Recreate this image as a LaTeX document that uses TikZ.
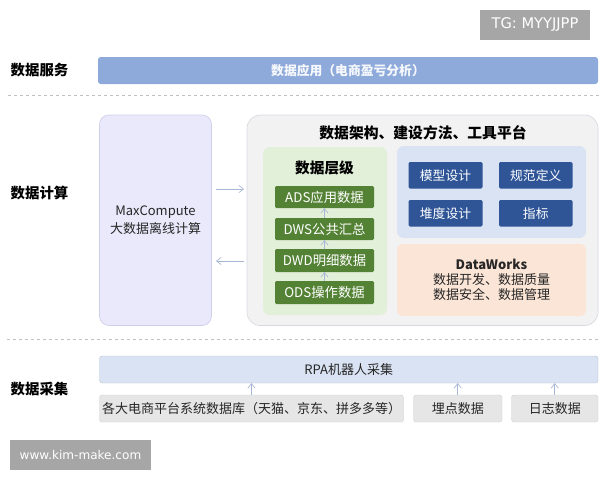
\documentclass[tikz,border=0pt]{standalone}
\usepackage{fontspec}
\setmainfont{Noto Sans CJK SC}
\newfontfamily\wmfont{DejaVu Sans}
\usetikzlibrary{arrows.meta}
\definecolor{arrowc}{HTML}{A9B7D6}
\definecolor{svc}{HTML}{8EAADB}
\definecolor{mcfill}{HTML}{E9E9FB}
\definecolor{mcline}{HTML}{CDD1E8}
\definecolor{bigfill}{HTML}{F2F2F2}
\definecolor{bigline}{HTML}{D6D9E2}
\definecolor{greenp}{HTML}{E2F0D9}
\definecolor{bluep}{HTML}{DAE3F3}
\definecolor{btn}{HTML}{2F5597}
\definecolor{orangep}{HTML}{FBE5D6}
\definecolor{greenb}{HTML}{548235}
\definecolor{grayb}{HTML}{E7E6E6}
\definecolor{wm}{HTML}{A6A6A6}
\definecolor{dashc}{HTML}{BFBFBF}
\newcommand{\fs}[1]{\fontsize{#1}{#1}\selectfont}
\newcommand{\bx}[7]{\node[basebox,#2,minimum width={(#5-#3)*0.75pt},minimum height={(#6-#4)*0.75pt}] (#1) at ({(#3+#5)/2},{(#4+#6)/2}) {#7};}
\tikzset{
  x=0.75pt,y=-0.75pt,
  basebox/.style={inner sep=0pt,outer sep=0pt,align=center,font=\fs{9.75},text=black!85},
  side/.style={inner sep=0pt,font=\fs{10.8}\bfseries,text=black},
  wmark/.style={fill=wm,text=white,font=\fs{11}\wmfont},
  svcbar/.style={fill=svc,rounded corners=2pt,text=white!92!svc,font=\fs{9.6}\bfseries},
  mcbox/.style={fill=mcfill,draw=mcline,line width=0.5pt,rounded corners=7pt},
  bigbox/.style={fill=bigfill,draw=bigline,line width=0.5pt,rounded corners=10pt},
  greenpanel/.style={fill=greenp,rounded corners=5pt},
  bluepanel/.style={fill=bluep,rounded corners=5pt},
  orangepanel/.style={fill=orangep,rounded corners=4pt},
  btnbox/.style={fill=btn,rounded corners=1pt,text=white,font=\fs{9.6}},
  layer/.style={fill=greenb,rounded corners=1pt,text=white,font=\fs{10}},
  rpabox/.style={fill=bluep,draw=bluep!85!black,line width=0.3pt,rounded corners=2pt},
  srcbox/.style={fill=grayb,draw=grayb!90!black,line width=0.3pt,rounded corners=2pt},
  heading/.style={inner sep=0pt,text=black,font=\fs{11.1}\bfseries},
  conn/.style={draw=arrowc,line width=0.6pt,-{Straight Barb[length=3.5pt,width=5.5pt,line width=0.5pt]}},
  divider/.style={draw=dashc,line width=0.6pt,dash pattern=on 2.5pt off 2pt},
}
\begin{document}
\begin{tikzpicture}
\useasboundingbox (0,0) rectangle (600,480);
\bx{tg}{wmark}{480}{10}{590}{40}{TG: MYYJJPP}
\bx{web}{wmark,font=\fs{9.05}\wmfont}{10}{440}{151}{470}{www.kim-make.com}
\node[side] (l1) at (39.5,70) {数据服务};
\node[side] (l2) at (39.5,193) {数据计算};
\node[side] (l3) at (39.5,389) {数据采集};
\bx{svc}{svcbar}{98}{57}{598}{84}{数据应用（电商盈亏分析）}
\coordinate (d1a) at (8,95); \coordinate (d1b) at (600,95);
\coordinate (d2a) at (7,339); \coordinate (d2b) at (600,339);
\draw[divider] (d1a) -- (d1b);
\draw[divider] (d2a) -- (d2b);
\bx{mc}{mcbox}{99.5}{115}{211.5}{325.5}{MaxCompute\\[1.5pt]大数据离线计算}
\bx{big}{bigbox}{247}{115}{598}{325.5}{}
\node[heading] (title) at (423,133) {数据架构、建设方法、工具平台};
\bx{gp}{greenpanel}{263}{147}{387}{315}{}
\node[heading,font=\fs{11}\bfseries] (gt) at (324.5,168) {数据层级};
\bx{ads}{layer}{275}{186}{374}{208}{ADS应用数据}
\bx{dws}{layer}{275}{218}{374}{240}{DWS公共汇总}
\bx{dwd}{layer}{275}{249}{374}{272}{DWD明细数据}
\bx{ods}{layer}{275}{281}{374}{304}{ODS操作数据}
\draw[conn] (ods) -- (dwd);
\draw[conn] (dwd) -- (dws);
\draw[conn] (dws) -- (ads);
\bx{bp}{bluepanel}{397}{146}{586}{238}{}
\bx{b1}{btnbox}{408.5}{162}{482.5}{188.5}{模型设计}
\bx{b2}{btnbox}{499}{162}{572.5}{188.5}{规范定义}
\bx{b3}{btnbox}{408.5}{200}{482.5}{226.5}{堆度设计}
\bx{b4}{btnbox}{499}{200}{572.5}{226.5}{指标}
\bx{op}{orangepanel}{397}{244}{586}{316}{{\bfseries DataWorks}\\[1.5pt]数据开发、数据质量\\[1.5pt]数据安全、数据管理}
\coordinate (ra) at (216,189); \coordinate (rb) at (244,189);
\coordinate (la) at (244,261); \coordinate (lb) at (216,261);
\draw[conn] (ra) -- (rb);
\draw[conn] (la) -- (lb);
\bx{rpa}{rpabox}{99.5}{356}{598}{383}{RPA机器人采集}
\bx{db}{srcbox}{99.5}{395}{403.5}{422}{各大电商平台系统数据库（天猫、京东、拼多多等）}
\bx{pt}{srcbox}{413.5}{395}{502}{422}{埋点数据}
\bx{logd}{srcbox}{511.5}{395}{598}{422}{日志数据}
\draw[conn] (db.north) -- (db.north |- rpa.south);
\draw[conn] (pt.north) -- (pt.north |- rpa.south);
\draw[conn] (logd.north) -- (logd.north |- rpa.south);
\end{tikzpicture}
\end{document}
